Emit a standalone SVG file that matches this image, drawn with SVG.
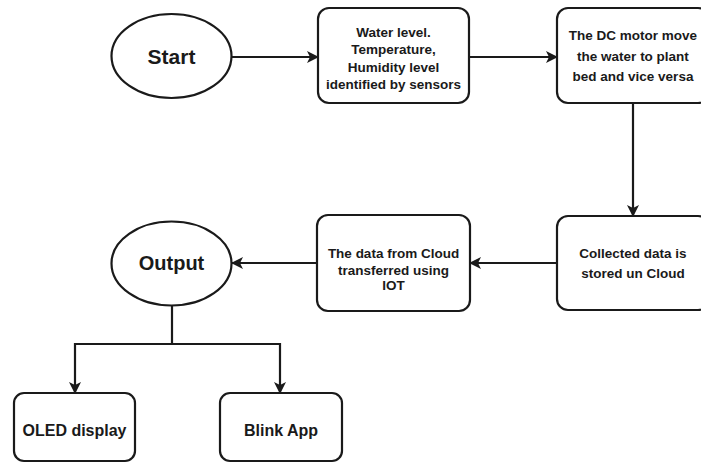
<svg xmlns="http://www.w3.org/2000/svg" width="701" height="463" viewBox="0 0 701 463">
<style>
.shape{fill:#fff;stroke:#1a1a1a;stroke-width:2.2}
.t{font-family:"Liberation Sans",Arial,sans-serif;font-weight:bold;font-size:13.5px;fill:#1a1a1a;text-anchor:middle}
.big{font-size:20px}
.mid{font-size:16px}
.c{fill:none;stroke:#1a1a1a;stroke-width:2.2}
</style>
<defs>
<marker id="ah" viewBox="0 0 12 12" refX="11" refY="6" markerWidth="12" markerHeight="12" markerUnits="userSpaceOnUse" orient="auto">
<path d="M0,0 L12,6 L0,12 L3,6 Z" fill="#1a1a1a"/>
</marker>
</defs>
<rect width="701" height="463" fill="#fff"/>
<g id="connectors">
<line class="c" x1="232" y1="57" x2="318" y2="57" marker-end="url(#ah)"/>
<line class="c" x1="469" y1="57" x2="557" y2="57" marker-end="url(#ah)"/>
<line class="c" x1="633" y1="103" x2="633" y2="216" marker-end="url(#ah)"/>
<line class="c" x1="557" y1="263" x2="470" y2="263" marker-end="url(#ah)"/>
<line class="c" x1="317" y1="263" x2="232" y2="263" marker-end="url(#ah)"/>
<polyline class="c" points="172,305 172,344"/>
<polyline class="c" points="172,344 75,344 75,393" marker-end="url(#ah)"/>
<polyline class="c" points="172,344 280,344 280,393" marker-end="url(#ah)"/>
</g>
<g id="start">
<ellipse class="shape" cx="171.5" cy="56" rx="60" ry="42"/>
<text class="t big" x="171.5" y="64" style="font-size:21px">Start</text>
</g>
<g id="sensors">
<rect class="shape" x="318" y="8" width="151" height="95" rx="11"/>
<text class="t" x="393.5" y="37">Water level.</text>
<text class="t" x="393.5" y="54">Temperature,</text>
<text class="t" x="393.5" y="72">Humidity level</text>
<text class="t" x="393.5" y="89">identified by sensors</text>
</g>
<g id="motor">
<rect class="shape" x="557" y="8" width="152" height="95" rx="11"/>
<text class="t" x="633" y="40">The DC motor move</text>
<text class="t" x="633" y="61">the water to plant</text>
<text class="t" x="633" y="81">bed and vice versa</text>
</g>
<g id="cloud-store">
<rect class="shape" x="557" y="216" width="152" height="94" rx="11"/>
<text class="t" x="633" y="258">Collected data is</text>
<text class="t" x="633" y="278">stored un Cloud</text>
</g>
<g id="iot">
<rect class="shape" x="317" y="215" width="153" height="96" rx="11"/>
<text class="t" x="393.5" y="258">The data from Cloud</text>
<text class="t" x="393.5" y="275">transferred using</text>
<text class="t" x="393.5" y="290">IOT</text>
</g>
<g id="output">
<ellipse class="shape" cx="171.5" cy="263.5" rx="60" ry="42"/>
<text class="t big" x="171.5" y="270">Output</text>
</g>
<g id="oled">
<rect class="shape" x="14" y="393" width="121" height="68" rx="10"/>
<text class="t mid" x="74.5" y="436">OLED display</text>
</g>
<g id="blink">
<rect class="shape" x="220" y="393" width="122" height="68" rx="10"/>
<text class="t mid" x="281" y="436">Blink App</text>
</g>
</svg>
